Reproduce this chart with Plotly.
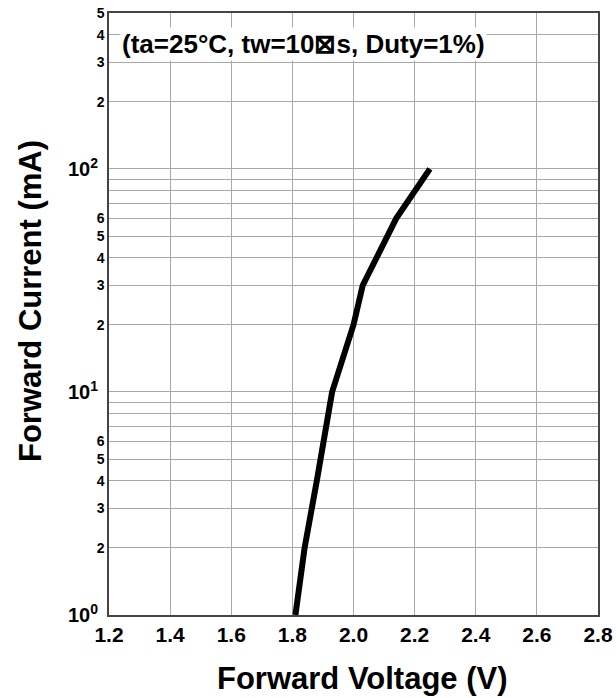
import plotly.graph_objects as go

voltage = [1.81, 1.84, 1.88, 1.93, 2.0, 2.03, 2.14, 2.2, 2.25]
current = [1, 2, 4, 10, 20, 30, 60, 80, 100]

x_ticks = [1.2, 1.4, 1.6, 1.8, 2.0, 2.2, 2.4, 2.6, 2.8]
x_ticktext = ["1.2", "1.4", "1.6", "1.8", "2.0", "2.2", "2.4", "2.6", "2.8"]

y_minor_ticks = [2, 3, 4, 5, 6, 20, 30, 40, 50, 60, 200, 300, 400, 500]
y_minor_text = ["2", "3", "4", "5", "6", "2", "3", "4", "5", "6", "2", "3", "4", "5"]
y_decade_ticks = [1, 10, 100]
y_decade_text = ["10<sup>0</sup>", "10<sup>1</sup>", "10<sup>2</sup>"]
y_extra_grid = [7, 8, 9, 70, 80, 90]

FONT = "Liberation Sans, Arial, sans-serif"
GRID = "#a8a8a8"
Y_RANGE = [0, 2.69897]

fig = go.Figure()
fig.add_trace(go.Scatter(x=voltage, y=current, mode="lines",
                         line=dict(color="black", width=6), showlegend=False))
fig.add_trace(go.Scatter(x=[None], y=[None], yaxis="y2", showlegend=False,
                         hoverinfo="skip"))
fig.add_trace(go.Scatter(x=[None], y=[None], yaxis="y3", showlegend=False,
                         hoverinfo="skip"))

fig.update_layout(
    width=616, height=698,
    margin=dict(l=109, r=18, t=13, b=83, autoexpand=False),
    paper_bgcolor="white", plot_bgcolor="white",
    font=dict(family=FONT, color="black"),
    xaxis=dict(range=[1.2, 2.8], tickvals=x_ticks, ticktext=x_ticktext,
               showgrid=True, gridcolor=GRID, gridwidth=1, automargin=False,
               showline=True, linecolor="#444", linewidth=1.5, mirror=True,
               ticks="", zeroline=False,
               tickfont=dict(family=FONT, size=21, weight="bold")),
    yaxis=dict(type="log", range=Y_RANGE, tickvals=y_minor_ticks, ticktext=y_minor_text,
               showgrid=True, gridcolor=GRID, gridwidth=1, automargin=False,
               showline=True, linecolor="#444", linewidth=1.5, mirror=True,
               ticks="", zeroline=False,
               tickfont=dict(family=FONT, size=14, weight="bold")),
    yaxis2=dict(type="log", range=Y_RANGE, overlaying="y", side="left",
                anchor="x", tickvals=y_decade_ticks, ticktext=y_decade_text,
                showgrid=True, gridcolor=GRID, gridwidth=1, showline=False,
                automargin=False,
                ticks="", zeroline=False, ticklabelstandoff=10,
                tickfont=dict(family=FONT, size=20, weight="bold")),
    yaxis3=dict(type="log", range=Y_RANGE, overlaying="y", side="left",
                anchor="x", tickvals=y_extra_grid, showticklabels=False,
                showgrid=True, gridcolor=GRID, gridwidth=1, showline=False,
                automargin=False, ticks="", zeroline=False),
)

fig.add_annotation(x=362, y=678, xref="paper", yref="paper",
                   text="Forward Voltage (V)", showarrow=False,
                   font=dict(family=FONT, size=31, weight="bold", color="black"))
fig.add_annotation(x=30, y=301, xref="paper", yref="paper",
                   text="Forward Current (mA)", showarrow=False, textangle=-90,
                   font=dict(family=FONT, size=31, weight="bold", color="black"))

# convert pixel positions to paper coords
for ann in fig.layout.annotations:
    ann.x = (ann.x - 109) / (598 - 109)
    ann.y = 1 - (ann.y - 13) / (615 - 13)
    ann.xanchor = "center"
    ann.yanchor = "middle"

fig.add_annotation(x=(120 - 109) / 489, y=1 - (44 - 13) / 602, xref="paper", yref="paper",
                   xanchor="left", yanchor="middle",
                   text="(ta=25°C, tw=10⊠s, Duty=1%)", showarrow=False,
                   bgcolor="white",
                   font=dict(family=FONT, size=26, weight="bold", color="black"))

fig.write_html("out.html")
